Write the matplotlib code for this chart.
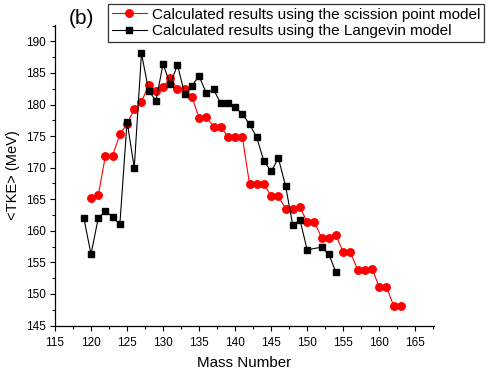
import matplotlib

matplotlib.use("Agg")
import matplotlib.pyplot as plt
from matplotlib.ticker import MultipleLocator

plt.rcParams["font.family"] = ["Liberation Sans", "DejaVu Sans"]

# scission point model (red circles)
SCISSION_MASS = list(range(120, 164))
SCISSION_TKE = [
    165.25, 165.6, 171.9, 171.9, 175.3, 176.9, 179.3, 180.4, 183.1, 182.1,
    182.8, 184.2, 182.4, 182.5, 181.2, 177.9, 178.0, 176.5, 176.5, 174.9,
    174.9, 174.9, 167.4, 167.4, 167.4, 165.5, 165.5, 163.5, 163.5, 163.7,
    161.4, 161.4, 158.9, 158.9, 159.3, 156.6, 156.6, 153.8, 153.8, 154.0,
    151.1, 151.1, 148.1, 148.1,
]

# Langevin model (black squares), no point at 151
LANGEVIN_MASS = list(range(119, 151)) + [152, 153, 154]
LANGEVIN_TKE = [
    162.0, 156.3, 162.0, 163.1, 162.2, 161.0, 177.3, 170.0, 188.1, 182.2,
    180.6, 186.4, 183.2, 186.3, 181.6, 183.0, 184.5, 181.8, 182.4, 180.2,
    180.2, 179.6, 178.5, 176.9, 174.8, 171.0, 169.4, 171.5, 167.1, 160.9,
    161.7, 157.0, 157.4, 156.3, 153.4,
]

LABELS = [
    "Calculated results using the scission point model",
    "Calculated results using the Langevin model",
]

W, H = 492, 376
fig = plt.figure(figsize=(W / 100, H / 100), dpi=100)
ax = fig.add_axes([55 / W, 1 - 325.5 / H, (434 - 55) / W, (325.5 - 25) / H])

ax.plot(SCISSION_MASS, SCISSION_TKE, color="#ff0000", lw=0.8, marker="o",
        ms=5.4, mec="#ff0000", mfc="#ff0000", label=LABELS[0], zorder=2)
ax.plot(LANGEVIN_MASS, LANGEVIN_TKE, color="black", lw=0.8, marker="s",
        ms=4.4, mec="black", mfc="black", label=LABELS[1], zorder=3)

ax.set_xlim(115, 167.6)
ax.set_ylim(145, 192.6)
ax.xaxis.set_major_locator(MultipleLocator(5))
ax.xaxis.set_minor_locator(MultipleLocator(2.5))
ax.yaxis.set_major_locator(MultipleLocator(5))
ax.yaxis.set_minor_locator(MultipleLocator(2.5))
ax.tick_params(which="major", direction="out", length=3.6, width=0.8, labelsize=8.5)
ax.tick_params(which="minor", direction="out", length=2.2, width=0.8)
ax.tick_params(axis="x", which="major", pad=4.5)
ax.tick_params(axis="y", which="major", pad=3)

for side in ("top", "right"):
    ax.spines[side].set_visible(False)
for side in ("left", "bottom"):
    ax.spines[side].set_linewidth(0.9)

ax.set_xlabel("Mass Number", fontsize=10.9, labelpad=5)
ax.set_ylabel("<TKE> (MeV)", fontsize=10.5, labelpad=4)

fig.text(81 / W, 1 - 18 / H, "(b)", fontsize=15, ha="center", va="center")

leg = fig.legend(loc="upper left", bbox_to_anchor=(108 / W, 1 - 4 / H),
                 fontsize=11, frameon=True, fancybox=False, borderaxespad=0,
                 handlelength=2.3, handletextpad=0.3, labelspacing=0.15,
                 borderpad=0.25)
leg.get_frame().set_edgecolor("black")
leg.get_frame().set_linewidth(0.9)

fig.savefig("out.png", dpi=100, facecolor="white")
